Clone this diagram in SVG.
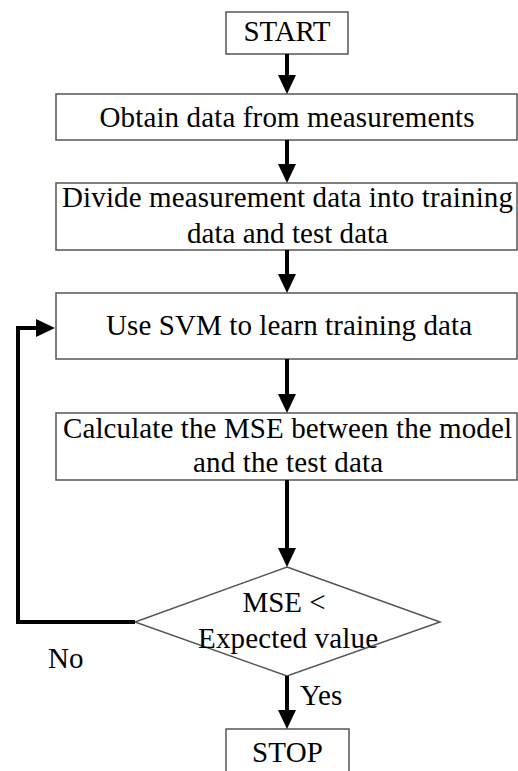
<svg xmlns="http://www.w3.org/2000/svg" width="518" height="771" viewBox="0 0 518 771">
  <style>
    .box { fill: #ffffff; stroke: #555555; stroke-width: 1.5; }
    .t { font-family: "Liberation Serif", "Times New Roman", serif; font-size: 29px; fill: #000000; text-anchor: middle; }
    .lbl { font-family: "Liberation Serif", "Times New Roman", serif; font-size: 29px; fill: #000000; }
    .conn { fill: none; stroke: #000000; stroke-width: 4; stroke-linejoin: miter; }
  </style>
  <defs>
    <marker id="ah" markerUnits="userSpaceOnUse" markerWidth="20" markerHeight="20" viewBox="0 0 20 20" refX="4" refY="10" orient="auto">
      <path d="M0,1 L19,10 L0,19 Z" fill="#000000"/>
    </marker>
  </defs>
  <rect width="518" height="771" fill="#ffffff"/>

  <g id="start">
    <rect class="box" x="226" y="12" width="122" height="42"/>
    <text class="t" x="287" y="41" textLength="87">START</text>
  </g>
  <g id="obtain">
    <rect class="box" x="56" y="94" width="461" height="46"/>
    <text class="t" x="287" y="127" textLength="375">Obtain data from measurements</text>
  </g>
  <g id="divide">
    <rect class="box" x="56" y="183" width="461" height="67"/>
    <text class="t" x="287.5" y="207" textLength="451">Divide measurement data into training</text>
    <text class="t" x="287.5" y="243" textLength="201">data and test data</text>
  </g>
  <g id="svm">
    <rect class="box" x="56" y="293" width="461" height="66"/>
    <text class="t" x="289" y="335" textLength="366">Use SVM to learn training data</text>
  </g>
  <g id="mse">
    <rect class="box" x="56" y="413" width="461" height="67"/>
    <text class="t" x="287.5" y="438" textLength="449">Calculate the MSE between the model</text>
    <text class="t" x="288" y="472" textLength="190">and the test data</text>
  </g>
  <g id="decision">
    <polygon class="box" points="287,567 440,622 287,676 135,622"/>
    <text class="t" x="284" y="612" textLength="83">MSE &lt;</text>
    <text class="t" x="288" y="648" textLength="180">Expected value</text>
  </g>
  <g id="stop">
    <rect class="box" x="226" y="729" width="123" height="60"/>
    <text class="t" x="287.5" y="762" textLength="71">STOP</text>
  </g>

  <g id="connectors">
    <line class="conn" x1="287" y1="54" x2="287" y2="79" marker-end="url(#ah)"/>
    <line class="conn" x1="287" y1="140" x2="287" y2="168" marker-end="url(#ah)"/>
    <line class="conn" x1="287" y1="250" x2="287" y2="278" marker-end="url(#ah)"/>
    <line class="conn" x1="287" y1="359" x2="287" y2="398" marker-end="url(#ah)"/>
    <line class="conn" x1="287" y1="480" x2="287" y2="552" marker-end="url(#ah)"/>
    <line class="conn" x1="287" y1="676" x2="287" y2="714" marker-end="url(#ah)"/>
    <path class="conn" d="M135,622 H18 V328 H40" marker-end="url(#ah)"/>
    <text class="lbl" x="48" y="668">No</text>
    <text class="lbl" x="300" y="705">Yes</text>
  </g>
</svg>
